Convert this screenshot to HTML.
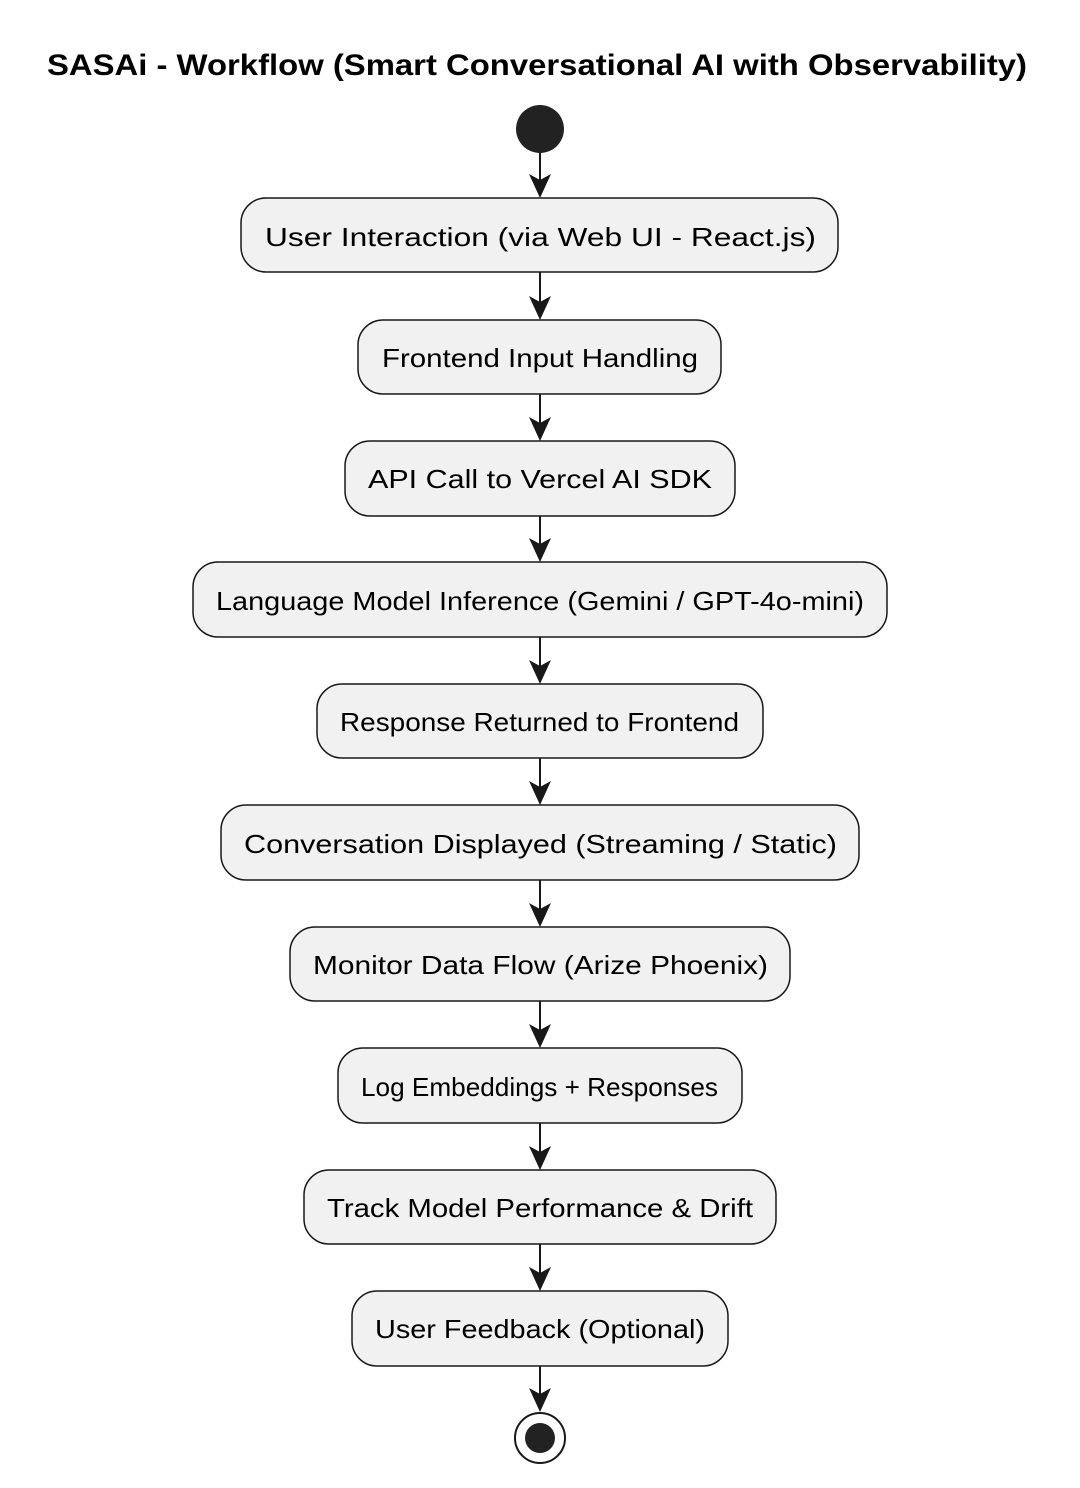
<!DOCTYPE html>
<html><head><meta charset="utf-8"><style>
html,body{margin:0;padding:0;background:#fff;}
svg{display:block;}
text{font-family:"Liberation Sans",Arial,sans-serif;fill:#000;}
</style></head><body>
<svg width="1080" height="1488" viewBox="0 0 1080 1488" xmlns="http://www.w3.org/2000/svg">
<text x="47" y="75" font-size="30" font-weight="bold" textLength="980" lengthAdjust="spacingAndGlyphs">SASAi - Workflow (Smart Conversational AI with Observability)</text>
<circle cx="540" cy="129" r="24" fill="#222"/>
<g fill="#f1f1f1" stroke="#181818" stroke-width="1.5">
<rect x="241" y="198" width="597" height="74" rx="25"/>
<rect x="358" y="320" width="363" height="74" rx="25"/>
<rect x="345" y="441" width="390" height="75" rx="25"/>
<rect x="193" y="562" width="694" height="75" rx="25"/>
<rect x="317" y="684" width="446" height="74" rx="25"/>
<rect x="221" y="805" width="638" height="75" rx="25"/>
<rect x="290" y="927" width="500" height="74" rx="25"/>
<rect x="338" y="1048" width="404" height="75" rx="25"/>
<rect x="304" y="1170" width="472" height="74" rx="25"/>
<rect x="352" y="1291" width="376" height="75" rx="25"/>
</g>
<g font-size="26">
<text x="265" y="246" textLength="551" lengthAdjust="spacingAndGlyphs">User Interaction (via Web UI - React.js)</text>
<text x="382" y="367" textLength="316" lengthAdjust="spacingAndGlyphs">Frontend Input Handling</text>
<text x="368" y="488" textLength="344" lengthAdjust="spacingAndGlyphs">API Call to Vercel AI SDK</text>
<text x="216" y="610" textLength="648" lengthAdjust="spacingAndGlyphs">Language Model Inference (Gemini / GPT-4o-mini)</text>
<text x="340" y="731" textLength="399" lengthAdjust="spacingAndGlyphs">Response Returned to Frontend</text>
<text x="244" y="853" textLength="593" lengthAdjust="spacingAndGlyphs">Conversation Displayed (Streaming / Static)</text>
<text x="313" y="974" textLength="455" lengthAdjust="spacingAndGlyphs">Monitor Data Flow (Arize Phoenix)</text>
<text x="361" y="1096" textLength="357" lengthAdjust="spacingAndGlyphs">Log Embeddings + Responses</text>
<text x="327" y="1217" textLength="426" lengthAdjust="spacingAndGlyphs">Track Model Performance &amp; Drift</text>
<text x="375" y="1338" textLength="330" lengthAdjust="spacingAndGlyphs">User Feedback (Optional)</text>
</g>
<g stroke="#181818" stroke-width="2" fill="#181818">
<line x1="540" y1="153" x2="540" y2="180"/><path d="M529,174 L540,198 L551,174 L540,180 Z" stroke="none"/>
<line x1="540" y1="272" x2="540" y2="302"/><path d="M529,296 L540,320 L551,296 L540,302 Z" stroke="none"/>
<line x1="540" y1="394" x2="540" y2="423"/><path d="M529,417 L540,441 L551,417 L540,423 Z" stroke="none"/>
<line x1="540" y1="516" x2="540" y2="544"/><path d="M529,538 L540,562 L551,538 L540,544 Z" stroke="none"/>
<line x1="540" y1="637" x2="540" y2="666"/><path d="M529,660 L540,684 L551,660 L540,666 Z" stroke="none"/>
<line x1="540" y1="758" x2="540" y2="787"/><path d="M529,781 L540,805 L551,781 L540,787 Z" stroke="none"/>
<line x1="540" y1="880" x2="540" y2="909"/><path d="M529,903 L540,927 L551,903 L540,909 Z" stroke="none"/>
<line x1="540" y1="1001" x2="540" y2="1030"/><path d="M529,1024 L540,1048 L551,1024 L540,1030 Z" stroke="none"/>
<line x1="540" y1="1123" x2="540" y2="1152"/><path d="M529,1146 L540,1170 L551,1146 L540,1152 Z" stroke="none"/>
<line x1="540" y1="1244" x2="540" y2="1273"/><path d="M529,1267 L540,1291 L551,1267 L540,1273 Z" stroke="none"/>
<line x1="540" y1="1366" x2="540" y2="1394"/><path d="M529,1388 L540,1412 L551,1388 L540,1394 Z" stroke="none"/>
</g>
<circle cx="540" cy="1438" r="25" fill="none" stroke="#181818" stroke-width="2"/>
<circle cx="540" cy="1438" r="15" fill="#222"/>
</svg>
</body></html>
